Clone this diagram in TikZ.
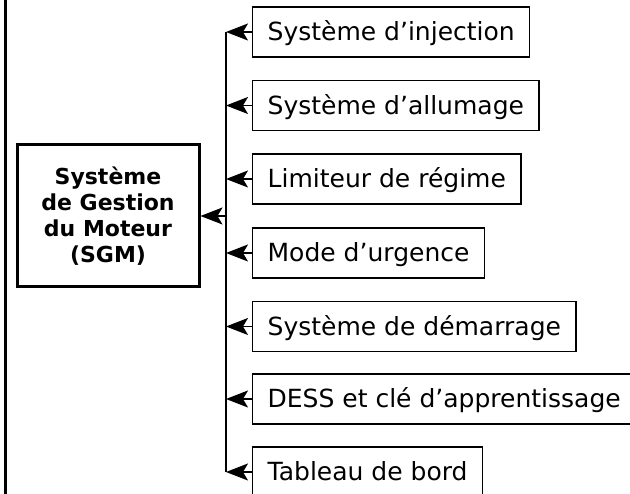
\documentclass[tikz,border=0pt]{standalone}
\usepackage{fontspec}
\setmainfont{DejaVu Sans}
\usetikzlibrary{arrows.meta}
\tikzset{
 sousbox/.style={draw,line width=1.3pt,anchor=west,inner xsep=15pt,inner ysep=0pt,
  minimum height=50pt,text height=18pt,text depth=0pt,font=\fontsize{25}{30}\selectfont},
 sgmbox/.style={draw,line width=3pt,minimum width=182pt,minimum height=142pt,align=center,
  font=\fontsize{22}{26}\selectfont\bfseries},
 fleche/.style={line width=1.3pt,-{Stealth[length=22pt,width=17pt,inset=5pt]}}
}
\begin{document}
\begin{tikzpicture}[x=1pt,y=-1pt]
 \useasboundingbox (0,0) rectangle (630,494);
 \draw[line width=2.5pt](5.5,-5)--(5.5,500);
 \node[sgmbox] (sgm) at (108,216) {Système\\de Gestion\\du Moteur\\(SGM)};
 \node[sousbox] (inj) at (252,32) {Système d’injection};
 \node[sousbox] (allu) at (252,105.5) {Système d’allumage};
 \node[sousbox] (lim) at (252,179) {Limiteur de régime};
 \node[sousbox] (urg) at (252,253) {Mode d’urgence};
 \node[sousbox] (dem) at (252,326.5) {Système de démarrage};
 \node[sousbox] (dess) at (252,399) {DESS et clé d’apprentissage};
 \node[sousbox] (tab) at (252,472) {Tableau de bord};
 \coordinate (tronc) at (226,0);
 \draw[line width=1.3pt](inj.west -| tronc)--(tab.west -| tronc);
 \foreach \b in {inj,allu,lim,urg,dem,dess,tab}
  \draw[fleche](\b.west)--(\b.west -| tronc);
 \draw[fleche](sgm.east -| tronc)--(sgm.east);
\end{tikzpicture}
\end{document}
